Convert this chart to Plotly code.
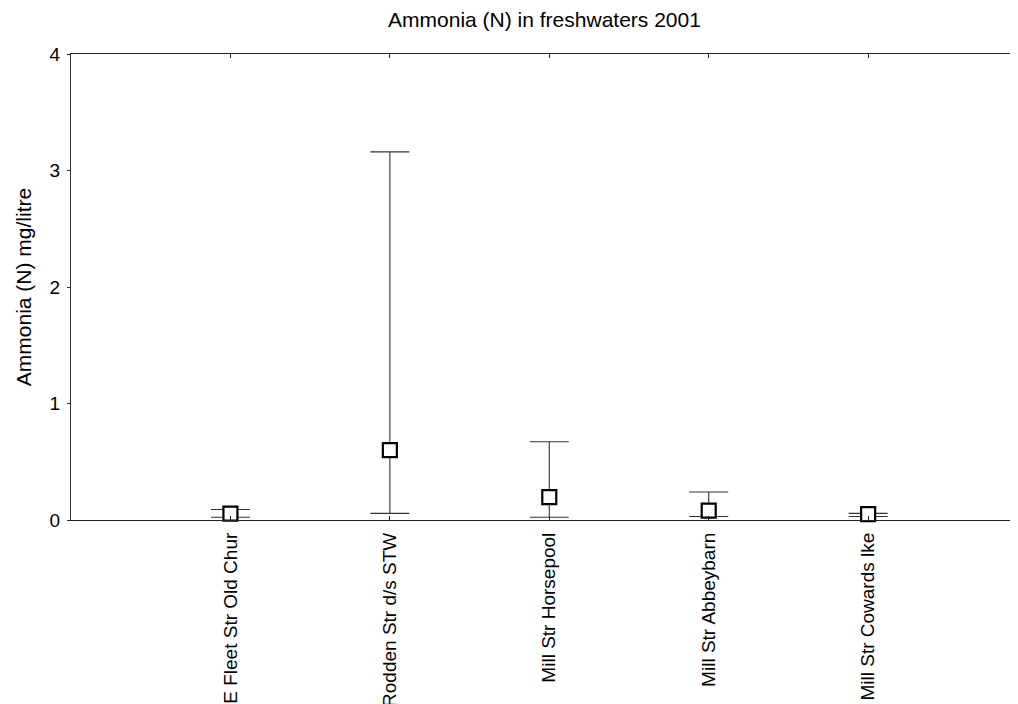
import plotly.graph_objects as go

sites = ["E Fleet Str Old Chur", "Rodden Str d/s STW", "Mill Str Horsepool",
         "Mill Str Abbeybarn", "Mill Str Cowards lke"]
mean_vals = [0.055, 0.60, 0.197, 0.08, 0.05]
max_vals = [0.09, 3.16, 0.672, 0.24, 0.057]
min_vals = [0.023, 0.057, 0.023, 0.03, 0.03]
y_ticks = [0, 1, 2, 3, 4]

err_plus = [mx - m for mx, m in zip(max_vals, mean_vals)]
err_minus = [m - mn for m, mn in zip(mean_vals, min_vals)]

FONT = "Liberation Sans, Arial, sans-serif"

# page body adds an 8px offset; figure is sized to fill the rest of the window
W, H = 1010, 696

fig = go.Figure()
fig.add_trace(go.Scatter(
    x=sites, y=mean_vals, mode="markers",
    marker=dict(symbol="square", size=14, color="white",
                line=dict(color="black", width=2.2)),
    error_y=dict(type="data", symmetric=False, array=err_plus, arrayminus=err_minus,
                 color="#333333", thickness=1.1, width=19.5),
    cliponaxis=False, showlegend=False,
))

fig.update_layout(
    width=W, height=H,
    margin=dict(l=63, r=0, t=46, b=184, autoexpand=False),
    paper_bgcolor="white", plot_bgcolor="white",
    font=dict(family=FONT, color="black", size=19),
    title=dict(text="Ammonia (N) in freshwaters 2001", x=0.5, xref="paper",
               y=1 - 12 / H, yref="container", yanchor="middle", xanchor="center",
               font=dict(size=21, family=FONT, color="black")),
)
fig.update_xaxes(
    type="category", range=[-1, 4.94], automargin=False,
    showline=True, linecolor="#222222", linewidth=1.2, mirror="ticks",
    ticks="inside", ticklen=4, tickcolor="#222222",
    tickangle=-90, ticklabelstandoff=4,
    tickfont=dict(size=19, family=FONT, color="black"),
    showgrid=False, zeroline=False,
)
fig.update_yaxes(
    range=[0, 4], tickvals=y_ticks, automargin=False,
    showline=True, linecolor="#333333", linewidth=1.2,
    ticks="outside", ticklen=3, tickcolor="#333333", ticklabelstandoff=3,
    tickfont=dict(size=19, family=FONT, color="black"),
    showgrid=False, zeroline=False,
    title=dict(text="Ammonia (N) mg/litre", font=dict(size=21, family=FONT, color="black"),
               standoff=12),
)

fig.write_html("out.html")
